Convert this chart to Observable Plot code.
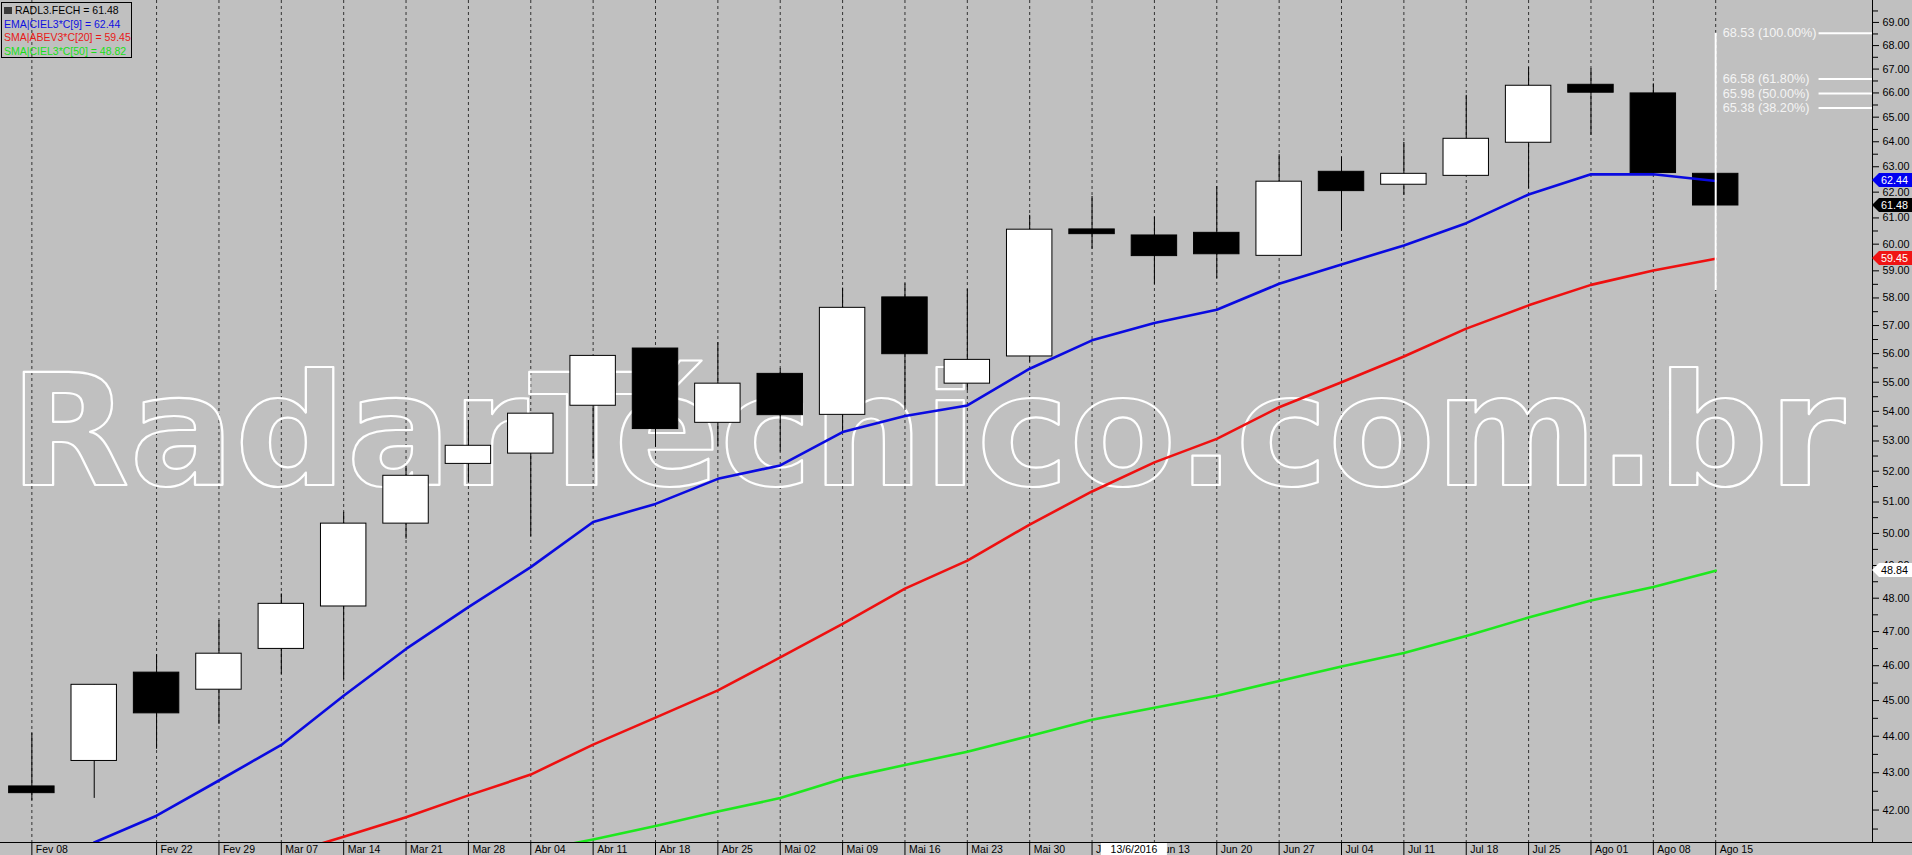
<!DOCTYPE html>
<html><head><meta charset="utf-8">
<script src="https://cdn.jsdelivr.net/npm/d3@7"></script>
<script src="https://cdn.jsdelivr.net/npm/@observablehq/plot@0.6"></script>
<style>
html,body{margin:0;padding:0;background:#c0c0c0;overflow:hidden}
#wrap{position:relative;width:1912px;height:855px}
#wrap svg{position:absolute;left:0;top:0}
#legend{position:absolute;left:1px;top:2px;width:131px;height:56px;border:1px solid #000;box-sizing:border-box;
 font:10.5px "Liberation Sans",Arial,sans-serif;line-height:13.5px;padding:1px 0 0 2px;white-space:nowrap}
#legend .sq{display:inline-block;width:8px;height:7px;background:#3a3a3a;margin-right:3px;vertical-align:-0px}
</style></head><body><div id="wrap"><div id="legend"></div></div>
<script>
// ---------- data ----------
const weeks = ["2016-02-08","2016-02-15","2016-02-22","2016-02-29","2016-03-07","2016-03-14","2016-03-21","2016-03-28",
  "2016-04-04","2016-04-11","2016-04-18","2016-04-25","2016-05-02","2016-05-09","2016-05-16","2016-05-23",
  "2016-05-30","2016-06-06","2016-06-13","2016-06-20","2016-06-27","2016-07-04","2016-07-11","2016-07-18",
  "2016-07-25","2016-08-01","2016-08-08","2016-08-15"];
const open  = [42.63,43.32,45.80,45.31,46.49,47.75,50.31,52.24,52.58,54.19,56.18,53.61,55.29,53.88,58.02,54.95,55.90,60.56,60.33,60.43,59.56,62.80,62.29,62.64,63.96,66.34,65.98,62.72];
const high  = [44.08,45.45,46.32,47.33,48.13,50.67,52.16,53.69,53.92,55.92,56.18,56.39,55.47,58.36,58.52,58.32,61.10,61.83,61.03,62.22,63.48,63.38,63.97,65.90,67.06,67.01,66.38,62.72];
const low   = [42.25,42.31,43.64,44.33,45.75,45.59,49.82,51.64,49.90,52.41,52.79,52.82,52.63,53.26,54.03,54.71,55.70,59.81,58.50,58.71,59.56,60.49,61.88,62.64,62.13,64.26,62.75,61.48];
const close = [42.45,45.45,44.64,46.35,47.83,50.31,51.85,52.84,53.92,55.92,53.40,54.95,53.87,57.64,55.98,55.78,60.55,60.38,59.55,59.62,62.41,62.04,62.72,64.12,66.30,66.01,62.75,61.48];
const ema9  = [null,41.15,41.85,42.79,43.76,45.14,46.49,47.73,48.95,50.36,50.94,51.75,52.19,53.30,53.84,54.20,55.47,56.47,57.09,57.57,58.52,59.24,59.95,60.80,61.91,62.70,62.70,62.44];
const sma20 = [null,null,null,null,40.81,41.30,41.81,42.39,42.95,43.77,44.52,45.29,46.24,47.23,48.29,49.15,50.28,51.34,52.29,53.07,54.14,55.00,55.90,56.89,57.73,58.48,59.01,59.45];
const sma50 = [null,null,null,null,null,null,null,null,40.91,41.23,41.58,41.96,42.32,42.84,43.21,43.57,44.01,44.46,44.80,45.14,45.56,45.98,46.37,46.87,47.42,47.93,48.34,48.84];

const tickDates  = ["2016-02-08","2016-02-22","2016-02-29","2016-03-07","2016-03-14","2016-03-21","2016-03-28",
  "2016-04-04","2016-04-11","2016-04-18","2016-04-25","2016-05-02","2016-05-09","2016-05-16","2016-05-23",
  "2016-05-30","2016-06-06","2016-06-13","2016-06-20","2016-06-27","2016-07-04","2016-07-11","2016-07-18",
  "2016-07-25","2016-08-01","2016-08-08","2016-08-15"];
const tickLabels = ["Fev 08","Fev 22","Fev 29","Mar 07","Mar 14","Mar 21","Mar 28","Abr 04","Abr 11","Abr 18","Abr 25",
  "Mai 02","Mai 09","Mai 16","Mai 23","Mai 30","Jun 06","Jun 13","Jun 20","Jun 27","Jul 04","Jul 11","Jul 18",
  "Jul 25","Ago 01","Ago 08","Ago 15"];
const yTicks = d3.range(42, 70);
const yMinorTicks = d3.range(41.5, 70, 1);

const fibLevels = [68.53, 66.58, 65.98, 65.38];
const fibPct    = ["100.00%", "61.80%", "50.00%", "38.20%"];
const fibLineLow = 58.27;

const tagValues = [62.44, 61.48, 59.45, 48.84];
const tagFills  = ["#0000f0", "#000000", "#f01414", "#ffffff"];
const tagInk    = ["#ffffff", "#ffffff", "#ffffff", "#000000"];

const legendTexts  = ["RADL3.FECH = 61.48", "EMA|CIEL3*C[9] = 62.44", "SMA|ABEV3*C[20] = 59.45", "SMA|CIEL3*C[50] = 48.82"];
const legendColors = ["#000000", "#1010e0", "#e81818", "#18e018"];
const crosshairDate = "2016-06-13";
const crosshairLabel = "13/6/2016";
const watermark = "RadarTécnico.com.br";

// ---------- build ----------
const parse = d3.utcParse("%Y-%m-%d");
const day = 864e5;
const dates = weeks.map(parse);
const tdates = tickDates.map(parse);
const candles = dates.map((d, i) => ({date: d, open: open[i], high: high[i], low: low[i], close: close[i]}));
const series = arr => dates.map((d, i) => ({date: d, v: arr[i]})).filter(d => d.v != null);
const xDomain = [new Date(+dates[0] - 3.52 * day), new Date(+dates[0] + 206.6 * day)];
const yDomain = [41.15, 69.96];
const lastDate = dates[dates.length - 1];
const font = "Liberation Sans, Arial, sans-serif";

const plot = Plot.plot({
  width: 1912, height: 855,
  marginTop: 0, marginRight: 40, marginBottom: 13, marginLeft: 0,
  style: {background: "#c0c0c0", fontFamily: font, fontSize: "11px", color: "black"},
  x: {type: "utc", domain: xDomain, axis: null, label: null},
  y: {type: "log", domain: yDomain, axis: null, label: null},
  marks: [
    Plot.ruleX(tdates, {stroke: "#333", strokeDasharray: "3,3", strokeWidth: 1}),
    Plot.text([watermark], {text: d => d, frameAnchor: "top-left", dx: 9, dy: 484, lineAnchor: "bottom", textAnchor: "start",
      fontFamily: "DejaVu Sans", fontWeight: "bold", fontSize: 155, fill: "none", stroke: "white", strokeWidth: 2.2}),
    Plot.ruleX(candles, {x: "date", y1: "low", y2: "high", stroke: "black", strokeWidth: 1}),
    Plot.rect(candles, {x1: d => new Date(+d.date - 2.55 * day), x2: d => new Date(+d.date + 2.55 * day),
      y1: "open", y2: "close", fill: d => d.close >= d.open ? "white" : "black", stroke: "black", strokeWidth: 1}),
    Plot.line(series(sma50), {x: "date", y: "v", stroke: "#1ee81e", strokeWidth: 2.6, clip: true}),
    Plot.line(series(sma20), {x: "date", y: "v", stroke: "#ee1010", strokeWidth: 2.6, clip: true}),
    Plot.line(series(ema9), {x: "date", y: "v", stroke: "#0a0ae0", strokeWidth: 2.6, clip: true}),
    Plot.ruleX([lastDate], {y1: fibLineLow, y2: fibLevels[0], stroke: "white", strokeWidth: 2}),
    Plot.ruleY(fibLevels, {x1: new Date(+lastDate + 11.6 * day), x2: xDomain[1], stroke: "white", strokeWidth: 2}),
    Plot.text(fibLevels, {x: () => lastDate, y: d => d, dx: 7, text: (d, i) => `${d.toFixed(2)} (${fibPct[i]})`,
      textAnchor: "start", fill: "#f4f4f4", fontSize: 12.7}),
    Plot.ruleX([xDomain[1]], {stroke: "black", strokeWidth: 1}),
    Plot.axisY({ticks: yMinorTicks, anchor: "right", tickSize: 5, tickFormat: () => "", label: null}),
    Plot.axisY({ticks: yTicks, anchor: "right", tickSize: 6, tickPadding: 4, tickFormat: d3.format(".2f"), fontSize: 10.8, label: null}),
    Plot.axisX({ticks: tdates, anchor: "bottom", tickSize: 13, tickFormat: () => "", label: null}),
    Plot.text(tdates, {x: d => d, text: (d, i) => tickLabels[i], frameAnchor: "bottom", dy: 7, dx: 4,
      textAnchor: "start", lineAnchor: "middle", fontSize: 10.5, fill: "black"})
  ]
});
document.getElementById("wrap").prepend(plot);

const svg = d3.select(plot);
const xs = plot.scale("x"), ys = plot.scale("y");
const xR = xs.apply(xDomain[1]);
const yB = ys.apply(yDomain[0]);
// fit the watermark to the reference's span
svg.select('g[aria-label="text"] text')
  .attr("textLength", 1836)
  .attr("lengthAdjust", "spacingAndGlyphs");
// bottom axis baseline across the whole width
svg.append("line").attr("x1", 0).attr("x2", 1912).attr("y1", yB + 0.5).attr("y2", yB + 0.5)
  .attr("stroke", "black").attr("stroke-width", 1);
// last value tags on the right axis
tagValues.forEach((v, i) => {
  const y = Math.round(ys.apply(v));
  const g = svg.append("g");
  g.append("path").attr("d", `M${xR},${y} L${xR + 7},${y - 7} L1912,${y - 7} L1912,${y + 7} L${xR + 7},${y + 7} Z`)
    .attr("fill", tagFills[i]);
  g.append("text").attr("x", xR + 9).attr("y", y).attr("dy", "0.35em").attr("fill", tagInk[i])
    .attr("text-anchor", "start").attr("font-family", font).attr("font-size", 10.8).text(v.toFixed(2));
});
// crosshair date box
{
  const cx = xs.apply(parse(crosshairDate));
  svg.append("rect").attr("x", cx - 53).attr("y", yB + 1).attr("width", 66).attr("height", 13).attr("fill", "white");
  svg.append("text").attr("x", cx - 20).attr("y", yB + 7.5).attr("dy", "0.35em").attr("text-anchor", "middle")
    .attr("font-family", font).attr("font-size", 10.5).attr("fill", "black").text(crosshairLabel);
}
// legend
const leg = d3.select("#legend");
legendTexts.forEach((t, i) => {
  const row = leg.append("div").style("color", legendColors[i]);
  if (i === 0) row.append("span").attr("class", "sq");
  row.append("span").text(t);
});
</script></body></html>
